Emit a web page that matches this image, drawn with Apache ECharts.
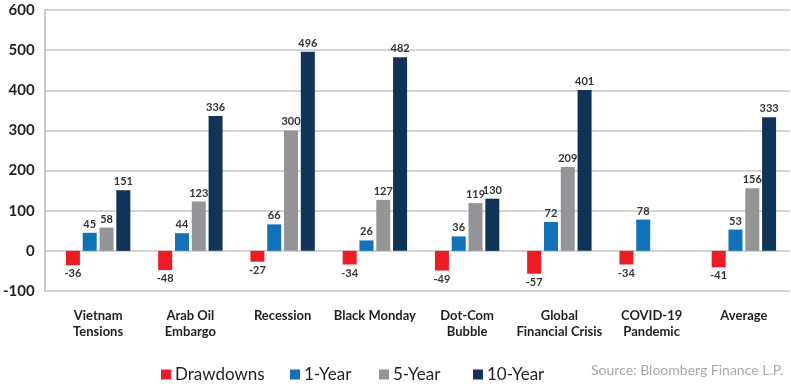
<!DOCTYPE html>
<html>
<head>
<meta charset="utf-8">
<title>Drawdowns and recoveries</title>
<script src="https://cdn.jsdelivr.net/npm/echarts@6/dist/echarts.min.js"></script>
<style>
  html, body { margin: 0; padding: 0; background: #fff; }
  #chart { width: 791px; height: 384px; }
</style>
</head>
<body>
<div id="chart"></div>
<script>
  var categories = ['Vietnam\nTensions', 'Arab Oil\nEmbargo', 'Recession', 'Black Monday',
    'Dot-Com\nBubble', 'Global\nFinancial Crisis', 'COVID-19\nPandemic', 'Average'];
  var drawdowns = [-36, -48, -27, -34, -49, -57, -34, -41];
  var oneYear = [45, 44, 66, 26, 36, 72, 78, 53];
  var fiveYear = [58, 123, 300, 127, 119, 209, null, 156];
  var tenYear = [151, 336, 496, 482, 130, 401, null, 333];
  var seriesNames = ['Drawdowns', '1-Year', '5-Year', '10-Year'];
  var colors = ['#ed1c24', '#1172b9', '#939598', '#0f3457'];

  var font = 'Lato, "Open Sans", sans-serif';
  var chart = echarts.init(document.getElementById('chart'));

  function barSeries(idx, values) {
    return {
      name: seriesNames[idx],
      type: 'bar',
      xAxisIndex: 1,
      yAxisIndex: 1,
      data: values,
      barWidth: 14,
      barGap: '20%',
      itemStyle: { color: colors[idx] },
      label: {
        show: true,
        position: idx === 0 ? 'bottom' : 'top',
        distance: 3,
        fontFamily: font,
        fontSize: 11,
        fontWeight: 'bold',
        color: '#333333'
      }
    };
  }

  // one legend per item so each can sit where the original puts it
  var legendLefts = [156, 285, 374, 468];
  var legends = seriesNames.map(function (name, i) {
    return {
      data: [name],
      left: legendLefts[i],
      top: 361,
      icon: 'rect',
      itemWidth: 10,
      itemHeight: 10,
      textStyle: { fontFamily: font, fontSize: 17, color: '#231f20', padding: [0, 0, 0, -1] }
    };
  });

  var option = {
    animation: false,
    color: colors,
    textStyle: { fontFamily: font },
    grid: [
      { left: 44, right: 1, top: 10, bottom: 93 },
      { left: 52, right: 1, top: 10, bottom: 93 }
    ],
    xAxis: [
      { type: 'category', gridIndex: 0, data: categories, show: false },
      {
        type: 'category', gridIndex: 1, data: categories,
        axisLine: { show: false }, axisTick: { show: false },
        axisLabel: {
          interval: 0, margin: 17, fontFamily: font, fontSize: 13,
          fontWeight: 'bold', lineHeight: 16, color: '#231f20'
        }
      }
    ],
    yAxis: [
      {
        type: 'value', gridIndex: 0, min: -100, max: 600, interval: 100,
        axisLine: { show: true, lineStyle: { color: '#b8b8b8', width: 1.5 } },
        axisTick: { show: false },
        splitLine: { lineStyle: { color: '#c4c4c4', width: 1.5 } },
        axisLabel: { fontFamily: font, fontSize: 15, fontWeight: 'bold', color: '#231f20', margin: 10 }
      },
      { type: 'value', gridIndex: 1, min: -100, max: 600, interval: 100, show: false }
    ],
    legend: legends,
    graphic: [{
      type: 'text',
      right: 8,
      top: 363,
      style: { text: 'Source: Bloomberg Finance L.P.', fill: '#a7a9ac', font: '14px ' + font }
    }],
    series: [
      barSeries(0, drawdowns),
      barSeries(1, oneYear),
      barSeries(2, fiveYear),
      barSeries(3, tenYear)
    ]
  };

  chart.setOption(option);
</script>
</body>
</html>
